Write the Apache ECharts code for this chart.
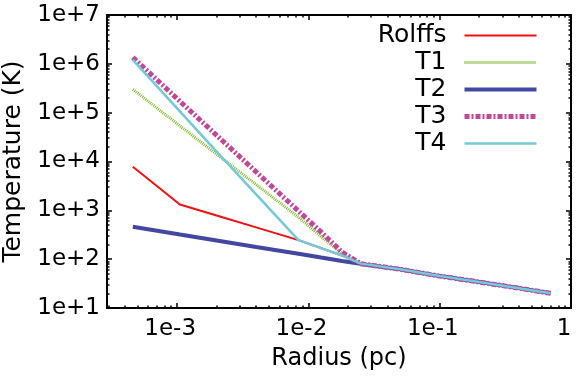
<!DOCTYPE html>
<html>
<head>
<meta charset="utf-8">
<script src="https://cdn.jsdelivr.net/npm/echarts@6/dist/echarts.min.js"></script>
<style>html,body{margin:0;padding:0;background:#fff}#c{width:584px;height:381px}</style>
</head>
<body>
<div id="c"></div>
<script>
// ---- data ----
var radius  = [4.6e-4, 1.05e-3, 2e-3, 4e-3, 8.4e-3, 0.0125, 0.018, 0.025, 0.05, 0.1, 0.2, 0.4, 0.7];
var rolffs  = [7800, 1320, 783, 447, 245, 168, 119, 81, 62, 45, 34, 25.5, 20];
var t1      = [3.0e5, 5.37e4, 1.41e4, 3370, 724, 290, 130, 81, 62, 45, 34, 25.5, 20];
var t2      = [460, 319, 241, 178, 129, 108, 92, 80, 62, 45, 34, 25.5, 20];
var t3      = [1.36e6, 1.71e5, 3.44e4, 6120, 968, 359, 140, 81, 62, 45, 34, 25.5, 20];
var t4      = [1.2e6, 1.06e5, 1.6e4, 2120, 245, 168, 119, 81, 62, 45, 34, 25.5, 20];
var seriesNames = ['Rolffs', 'T1', 'T2', 'T3', 'T4'];

var xMajor = [1e-3, 1e-2, 1e-1, 1];
var xTickLabels = ['1e-3', '1e-2', '1e-1', '1'];
var yMajor = [1e1, 1e2, 1e3, 1e4, 1e5, 1e6, 1e7];
var yTickLabels = ['1e+1', '1e+2', '1e+3', '1e+4', '1e+5', '1e+6', '1e+7'];
var xMin = Math.pow(10, -3.534), xMax = 1;
var yMin = 10, yMax = 1e7;
// the reference prints its x tick labels slightly left of their ticks
var xLabelShift = 0.053; // decades

function minors(lo, hi) {
  var out = [];
  for (var e = lo; e <= hi; e++) {
    for (var m = 2; m <= 9; m++) out.push(m * Math.pow(10, e));
  }
  return out;
}
var xMinor = minors(-4, -1);
var yMinor = minors(1, 6);

var FONT = 'DejaVu Sans';

function pair(vals) { return radius.map(function (r, i) { return [r, vals[i]]; }); }
function labelFor(list, labels) {
  return function (v) {
    for (var i = 0; i < list.length; i++) {
      if (Math.abs(Math.log10(v) - Math.log10(list[i])) < 1e-6) return labels[i];
    }
    return '';
  };
}

function axis(dim, pos, ticks, len, extra) {
  var isX = dim === 'x';
  var a = {
    type: 'log', logBase: 10,
    position: pos,
    min: isX ? xMin : yMin,
    max: isX ? xMax : yMax,
    splitLine: { show: false },
    minorTick: { show: false },
    axisLine: { show: true, lineStyle: { color: '#000', width: 2 } },
    axisTick: { show: true, inside: true, length: len, customValues: ticks, lineStyle: { color: '#000', width: 1.5 } },
    axisLabel: { show: false }
  };
  if (extra) for (var k in extra) a[k] = extra[k];
  return a;
}

var chart = echarts.init(document.getElementById('c'), null, { renderer: 'canvas' });
chart.setOption({
  animation: false,
  backgroundColor: '#fff',
  grid: { left: 107, right: 13, top: 15, bottom: 73, containLabel: false, outerBoundsMode: 'none' },
  xAxis: [
    axis('x', 'bottom', xMajor, 5, {
      name: 'Radius (pc)', nameLocation: 'middle', nameGap: 39,
      nameTextStyle: { color: '#000', fontFamily: FONT, fontSize: 24 }
    }),
    axis('x', 'bottom', xMinor, 2.5),
    axis('x', 'top', xMajor, 5),
    axis('x', 'top', xMinor, 2.5),
    {
      type: 'log', logBase: 10, position: 'bottom',
      min: xMin * Math.pow(10, xLabelShift), max: xMax * Math.pow(10, xLabelShift),
      splitLine: { show: false }, axisLine: { show: false }, axisTick: { show: false },
      axisLabel: {
        show: true, customValues: xMajor, formatter: labelFor(xMajor, xTickLabels),
        color: '#000', fontFamily: FONT, fontSize: 23, margin: 10,
        showMinLabel: true, showMaxLabel: true, hideOverlap: false
      }
    }
  ],
  yAxis: [
    axis('y', 'left', yMajor, 5, {
      name: 'Temperature (K)', nameLocation: 'middle', nameGap: 64, nameRotate: 90,
      nameTextStyle: { color: '#000', fontFamily: FONT, fontSize: 25 },
      axisLabel: {
        show: true, customValues: yMajor, formatter: labelFor(yMajor, yTickLabels),
        color: '#000', fontFamily: FONT, fontSize: 23, margin: 7,
        showMinLabel: true, showMaxLabel: true, hideOverlap: false
      }
    }),
    axis('y', 'left', yMinor, 2.5),
    axis('y', 'right', yMajor, 5),
    axis('y', 'right', yMinor, 2.5)
  ],
  legend: {
    orient: 'vertical', align: 'right', right: 40, top: 18,
    itemWidth: 72, itemHeight: 14, itemGap: 2,
    data: seriesNames,
    textStyle: { color: '#000', fontFamily: FONT, fontSize: 25, lineHeight: 24, padding: [0, 13, 0, 0] },
    lineStyle: { width: 'inherit' },
    itemStyle: { opacity: 0, borderWidth: 0 }
  },
  series: [
    { name: seriesNames[0], type: 'line', symbol: 'none', data: pair(rolffs),
      lineStyle: { color: '#ee1111', width: 2 }, itemStyle: { color: '#ee1111' } },
    { name: seriesNames[1], type: 'line', symbol: 'none', data: pair(t1),
      lineStyle: { color: '#7cb82f', width: 3, type: [1, 1] }, itemStyle: { color: '#7cb82f' } },
    { name: seriesNames[2], type: 'line', symbol: 'none', data: pair(t2),
      lineStyle: { color: '#4347a0', width: 4 }, itemStyle: { color: '#4347a0' } },
    { name: seriesNames[3], type: 'line', symbol: 'none', data: pair(t3),
      lineStyle: { color: '#c0479a', width: 5, type: [5, 2, 2, 2] }, itemStyle: { color: '#c0479a' } },
    { name: seriesNames[4], type: 'line', symbol: 'none', data: pair(t4),
      lineStyle: { color: '#74c8da', width: 2.5 }, itemStyle: { color: '#74c8da' } }
  ]
});
</script>
</body>
</html>
